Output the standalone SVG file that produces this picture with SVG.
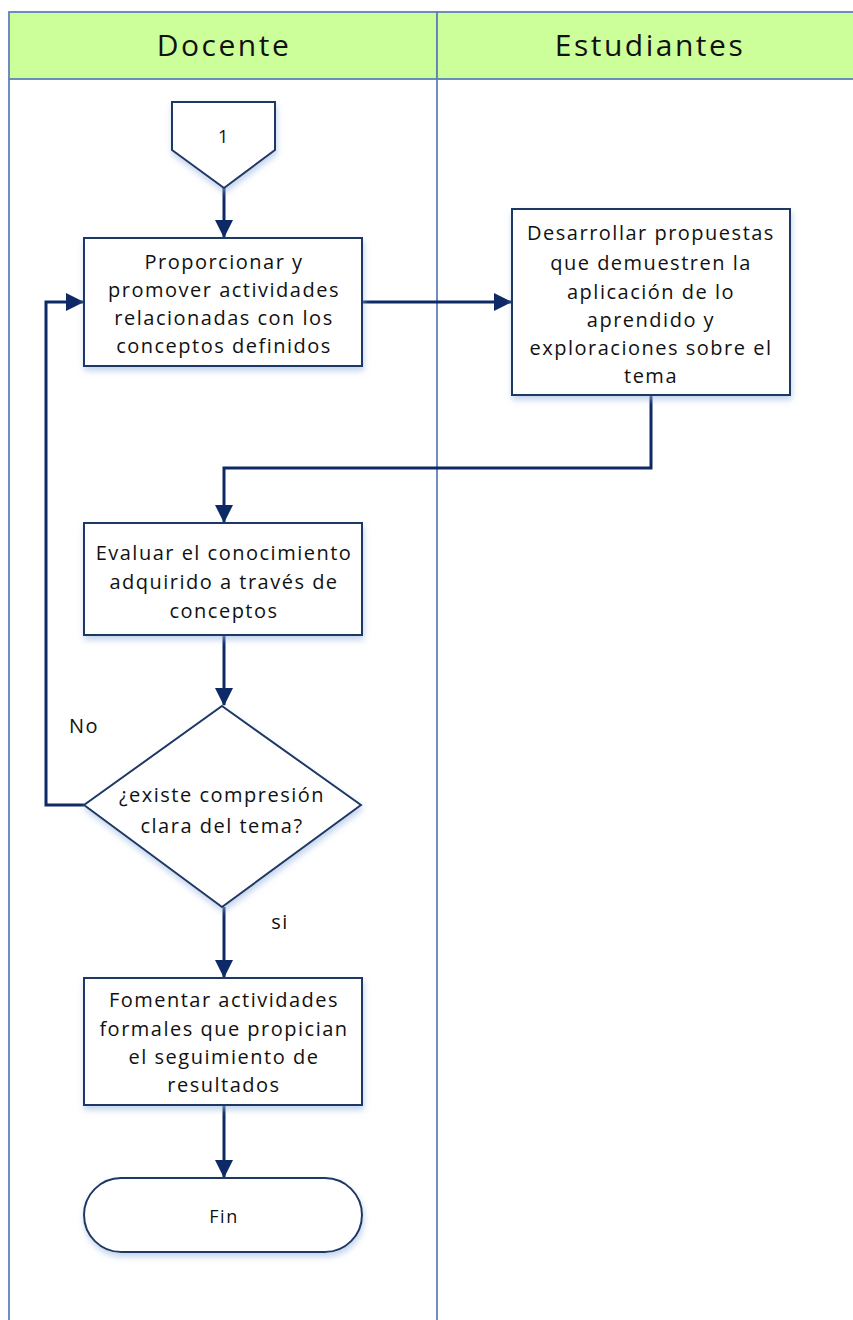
<svg xmlns="http://www.w3.org/2000/svg" width="853" height="1320" viewBox="0 0 853 1320">
<defs>
<marker id="ah" markerWidth="18" markerHeight="18" refX="17" refY="9" orient="auto" markerUnits="userSpaceOnUse" viewBox="0 0 18 18">
<path d="M0,0 L18,9 L0,18 z" fill="#0e2a66"/>
</marker>
<filter id="sh" x="-10%" y="-10%" width="125%" height="130%">
<feGaussianBlur in="SourceAlpha" stdDeviation="3"/>
<feOffset dx="1" dy="4" result="b"/>
<feFlood flood-color="#9bb7e0" flood-opacity="0.6"/>
<feComposite in2="b" operator="in"/>
<feMerge><feMergeNode/><feMergeNode in="SourceGraphic"/></feMerge>
</filter>
<style>
.lane{fill:none;stroke:#5f82b8;stroke-width:1.8}
.hdr{fill:#ccff99;stroke:#5f82b8;stroke-width:1.8}
.ht{font-family:"Open Sans","Liberation Sans",sans-serif;font-size:30px;fill:#111;text-anchor:middle;letter-spacing:2.5px}
.box{fill:#fff;stroke:#1f3864;stroke-width:2}
.t{font-family:"Open Sans","Liberation Sans",sans-serif;font-size:20px;fill:#111;text-anchor:middle;letter-spacing:1.5px}
.c{fill:none;stroke:#0e2a66;stroke-width:3}
</style>
</defs>
<g id="pool">
<rect class="hdr" x="9" y="12" width="428" height="67"/>
<rect class="hdr" x="437" y="12" width="420" height="67"/>
<line class="lane" x1="9" y1="79" x2="9" y2="1320"/>
<line class="lane" x1="437" y1="79" x2="437" y2="1320"/>
<text class="ht" x="224" y="56">Docente</text>
<text class="ht" x="650" y="56">Estudiantes</text>
</g>
<g id="connectors">
<line class="c" x1="224" y1="188" x2="224" y2="237" marker-end="url(#ah)"/>
<line class="c" x1="362" y1="302" x2="511" y2="302" marker-end="url(#ah)"/>
<polyline class="c" points="651,395 651,468 224,468 224,522" marker-end="url(#ah)"/>
<line class="c" x1="224" y1="635" x2="224" y2="705" marker-end="url(#ah)"/>
<polyline class="c" points="84,805 46,805 46,302 83,302" marker-end="url(#ah)"/>
<line class="c" x1="224" y1="907" x2="224" y2="977" marker-end="url(#ah)"/>
<line class="c" x1="224" y1="1105" x2="224" y2="1177" marker-end="url(#ah)"/>
</g>
<g id="offpage1">
<polygon class="box" filter="url(#sh)" points="172,102 275,102 275,150 224,188 172,150"/>
<text class="t" x="224" y="143" style="font-size:18px">1</text>
</g>
<g id="box1">
<rect class="box" filter="url(#sh)" x="84" y="238" width="278" height="128"/>
<text class="t" x="224" y="269">Proporcionar y</text>
<text class="t" x="224" y="297">promover actividades</text>
<text class="t" x="224" y="325">relacionadas con los</text>
<text class="t" x="224" y="353">conceptos definidos</text>
</g>
<g id="box2">
<rect class="box" filter="url(#sh)" x="512" y="209" width="278" height="186"/>
<text class="t" x="651" y="240">Desarrollar propuestas</text>
<text class="t" x="651" y="270">que demuestren la</text>
<text class="t" x="651" y="299">aplicación de lo</text>
<text class="t" x="651" y="327">aprendido y</text>
<text class="t" x="651" y="355">exploraciones sobre el</text>
<text class="t" x="651" y="383">tema</text>
</g>
<g id="box3">
<rect class="box" filter="url(#sh)" x="84" y="523" width="278" height="112"/>
<text class="t" x="224" y="560">Evaluar el conocimiento</text>
<text class="t" x="224" y="589">adquirido a través de</text>
<text class="t" x="224" y="618">conceptos</text>
</g>
<g id="decision">
<polygon class="box" filter="url(#sh)" points="222,706 361,805 222,907 84,805"/>
<text class="t" x="222" y="802">¿existe compresión</text>
<text class="t" x="222" y="833">clara del tema?</text>
</g>
<text class="t" x="84" y="733">No</text>
<text class="t" x="280" y="929">si</text>
<g id="box4">
<rect class="box" filter="url(#sh)" x="84" y="978" width="278" height="127"/>
<text class="t" x="224" y="1007">Fomentar actividades</text>
<text class="t" x="224" y="1036">formales que propician</text>
<text class="t" x="224" y="1064">el seguimiento de</text>
<text class="t" x="224" y="1092">resultados</text>
</g>
<g id="fin">
<rect class="box" filter="url(#sh)" x="84" y="1178" width="278" height="74" rx="37" ry="37"/>
<text class="t" x="224" y="1223" style="font-size:18px">Fin</text>
</g>
</svg>
